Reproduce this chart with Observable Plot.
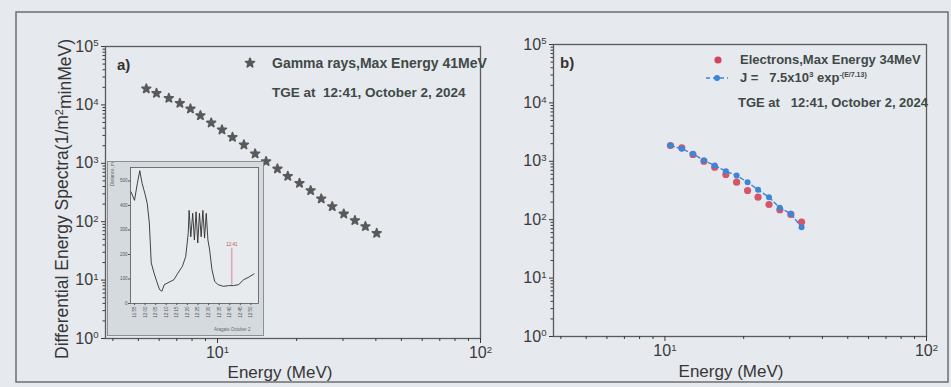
<!DOCTYPE html>
<html><head><meta charset="utf-8">
<script src="https://cdn.jsdelivr.net/npm/d3@7"></script>
<script src="https://cdn.jsdelivr.net/npm/@observablehq/plot@0.6"></script>
<style>
html,body{margin:0;padding:0;background:#e6e9ed;}
#wrap{position:relative;width:951px;height:387px;background:#e6e9ed;overflow:hidden;font-family:Arial,"Liberation Sans",sans-serif;color:#3a3a3a;}
.t{position:absolute;white-space:nowrap;line-height:1;}
.leg{font-family:"Liberation Sans Narrow","Arial Narrow",Arial,sans-serif;font-weight:bold;font-size:14px;color:#3f4947;}
</style></head><body><div id="wrap"></div>
<script>
// ---- data ----
const gammaEnergy = [5.36,5.86,6.53,7.19,7.89,8.61,9.46,10.4,11.4,12.6,13.9,15.3,16.9,18.5,20.5,22.6,24.8,27.3,30.2,33.3,36.5,40.3];
const gammaFlux   = [18900,15850,13030,10700,8570,6580,4930,3750,2800,2075,1455,1074,805,601,456,342,247,182,136,105,83,63.5];

const electronEnergy = [10.5,11.6,12.8,14.1,15.5,17.1,18.8,20.7,22.7,25.0,27.5,30.3,33.3];
const electronFlux   = [1865,1703,1307,1005,793,594,439,316,243,182,148,123,91];
const fitFlux        = [1865,1637,1344,1032,847,677,571,439,325,243,160,126,74.5];

const decadeTicks = [1,10,100,1000,10000,100000];
const xMajorTicks = [10,100];
const xMinorTicks = [4,5,6,7,8,9,20,30,40,50,60,70,80,90];
const yMinorTicks = [0,1,2,3,4].flatMap(k => [2,3,4,5,6,7,8,9].map(m => m*Math.pow(10,k)));

// inset: lightning distance vs time (minutes after 12:00)
const insetTime = [-6.6,-5.0,-3.7,-2.5,-1.4,-0.1,1.0,2.0,2.9,4.2,5.5,6.8,7.9,9.1,13.6,15.5,17.6,19.2,20.4,20.8,21.6,22.5,23.3,24.1,24.9,25.7,26.5,27.3,28.1,28.9,29.7,30.5,31.6,32.9,34.5,37.0,39.4,41.8,44.2,46.6,49.1,51.5];
const insetDistance = [455,421,489,542,490,449,409,328,166,125,90,57,50,77,97,124,151,192,287,380,272,368,259,374,247,368,272,380,267,368,259,219,138,90,77,70,73,73,77,97,108,121];
const insetYTicks = [0,100,200,300,400,500];
const insetXTicks = [-5,0,5,10,15,20,25,30,35,40,45,50];
const insetXLabels = ["11:55","12:00","12:05","12:10","12:15","12:20","12:25","12:30","12:35","12:40","12:45","12:50"];
const tgeTime = 41, tgeRange = [73,225];

const gamma = gammaEnergy.map((e,i)=>({e, f:gammaFlux[i]}));
const electrons = electronEnergy.map((e,i)=>({e, f:electronFlux[i]}));
const fit = electronEnergy.map((e,i)=>({e, f:fitFlux[i]}));
const inset = insetTime.map((t,i)=>({t, v:insetDistance[i]}));

const wrap = document.getElementById("wrap");
const pow = v => "10^" + Math.round(Math.log10(v));

function supFix(svg){
  svg.querySelectorAll("text").forEach(t=>{
    const m = /^10\^(\d+)$/.exec(t.textContent);
    if(m){
      t.textContent = "10";
      const ts = document.createElementNS("http://www.w3.org/2000/svg","tspan");
      ts.setAttribute("dy","-0.55em");
      ts.setAttribute("font-size","0.6em");
      ts.textContent = m[1];
      t.appendChild(ts);
    }
  });
}
function place(svg, x, y){
  svg.style.position = "absolute";
  svg.style.left = x + "px";
  svg.style.top = y + "px";
  svg.style.overflow = "visible";
  wrap.appendChild(svg);
}

function axesMarks(){
  return [
    Plot.frame({stroke:"#5c5c5c", strokeWidth:1.3}),
    Plot.axisX(xMinorTicks, {tickSize:3, tickFormat:()=>"", label:null}),
    Plot.axisX(xMajorTicks, {tickSize:5, tickPadding:3, fontSize:16, tickFormat:pow, label:null}),
    Plot.axisY(yMinorTicks, {tickSize:2.5, tickFormat:()=>"", label:null}),
    Plot.axisY(decadeTicks, {tickSize:4, tickPadding:3, fontSize:16, tickFormat:pow, label:null})
  ];
}

const left = Plot.plot({
  width:490, height:387,
  marginLeft:105, marginRight:10, marginTop:46, marginBottom:49,
  style:{background:"transparent", color:"#3a3a3a", fontFamily:"Arial, 'Liberation Sans', sans-serif"},
  x:{type:"log", domain:[3.75,100]},
  y:{type:"log", domain:[1,1e5]},
  marks:[
    ...axesMarks(),
    Plot.dot(gamma, {x:"e", y:"f", symbol:"star", r:2.7, fill:"#5a5a5a", stroke:"#5a5a5a", strokeWidth:1.8, strokeLinejoin:"round"})
  ]
});
supFix(left);
place(left, 0, 0);

const right = Plot.plot({
  width:461, height:387,
  marginLeft:63, marginRight:25, marginTop:44, marginBottom:51,
  style:{background:"transparent", color:"#3a3a3a", fontFamily:"Arial, 'Liberation Sans', sans-serif"},
  x:{type:"log", domain:[3.75,100]},
  y:{type:"log", domain:[1,1e5]},
  marks:[
    ...axesMarks(),
    Plot.dot(electrons, {x:"e", y:"f", r:3.6, fill:"#d4455c", fillOpacity:0.9}),
    Plot.line(fit, {x:"e", y:"f", stroke:"#3b86d6", strokeWidth:1.4, strokeDasharray:"4,3"}),
    Plot.dot(fit, {x:"e", y:"f", r:3, fill:"#3b86d6"})
  ]
});
supFix(right);
place(right, 490, 0);

// inset
const ins = Plot.plot({
  width:155, height:173,
  marginLeft:22, marginRight:5, marginTop:5, marginBottom:32,
  style:{background:"#d5dadf", color:"#555", fontFamily:"Arial, sans-serif", outline:"1px solid #8b9095"},
  x:{domain:[-6.9,53.6]},
  y:{domain:[0,555]},
  marks:[
    Plot.frame({fill:"#e8ebee", stroke:"#555", strokeWidth:0.8}),
    Plot.axisY(insetYTicks, {tickSize:2, tickPadding:1, fontSize:4.5, label:null}),
    Plot.axisX(insetXTicks, {tickSize:2, tickPadding:1, fontSize:4.5, tickRotate:-90, tickFormat:(d,i)=>insetXLabels[i], label:null}),
    Plot.ruleX([tgeTime], {y1:tgeRange[0], y2:tgeRange[1], stroke:"#d77a8c", strokeWidth:0.9}),
    Plot.text(["12:41"], {x:tgeTime, y:tgeRange[1]+15, fontSize:4.5, fill:"#b55"}),
    Plot.line(inset, {x:"t", y:"v", stroke:"#2e2e2e", strokeWidth:0.9})
  ]
});
place(ins, 108, 162);

// overlay: frame, labels, legends
const ov = `
<svg width="951" height="387" style="position:absolute;left:0;top:0;pointer-events:none" xmlns="http://www.w3.org/2000/svg">
  <rect x="16" y="12" width="932" height="370" fill="none" stroke="#6e6e6e" stroke-width="1.5"/>
  <g transform="translate(62,199) rotate(-90)">
    <text text-anchor="middle" dy="0.35em" font-size="17.5" font-family="Arial, sans-serif" fill="#363636">Differential Energy Spectra(1/m<tspan dy="-0.5em" font-size="11">2</tspan><tspan dy="0.5em">minMeV)</tspan></text>
  </g>
  <text x="280" y="372" text-anchor="middle" dy="0.35em" font-size="17" font-family="Arial, sans-serif" fill="#363636">Energy (MeV)</text>
  <text x="731" y="371" text-anchor="middle" dy="0.35em" font-size="17" font-family="Arial, sans-serif" fill="#363636">Energy (MeV)</text>
  <text x="117" y="65" dy="0.35em" font-size="15" font-weight="bold" font-family="Arial, sans-serif" fill="#333">a)</text>
  <text x="560" y="63" dy="0.35em" font-size="15" font-weight="bold" font-family="Arial, sans-serif" fill="#333">b)</text>
  <path d="${d3.symbol(d3.symbolStar, 24)()}" transform="translate(250,63)" fill="#585858" stroke="#585858" stroke-width="1.8" stroke-linejoin="round"/>
  <circle cx="718" cy="60" r="3.6" fill="#d4455c"/>
  <line x1="706" y1="78" x2="728" y2="78" stroke="#3b86d6" stroke-width="1.4" stroke-dasharray="4,3"/>
  <circle cx="717" cy="78" r="3" fill="#3b86d6"/>
</svg>`;
wrap.insertAdjacentHTML("beforeend", ov);

function addText(html, x, y, cls, extra){
  const d = document.createElement("div");
  d.className = "t " + (cls||"");
  d.innerHTML = html;
  d.style.left = x + "px"; d.style.top = y + "px";
  if (extra) Object.assign(d.style, extra);
  wrap.appendChild(d);
  return d;
}
addText("Gamma rays,Max Energy 41MeV", 272, 56, "leg");
addText("TGE at&nbsp; 12:41, October 2, 2024", 272, 86, "leg", {fontSize:"13.5px"});
addText("Electrons,Max Energy 34MeV", 740, 53, "leg", {fontSize:"13px"});
addText("J =&nbsp;&nbsp; 7.5x10<sup style='font-size:8px'>3</sup> exp<sup style='font-size:7px'>-(E/7.13)</sup>", 740, 71, "leg", {fontSize:"13px"});
addText("TGE at&nbsp;&nbsp; 12:41, October 2, 2024", 738, 96, "leg", {fontSize:"13px"});
// inset axis labels
addText("Distance, m", 111, 186, "", {fontSize:"4.5px", color:"#666", transform:"rotate(-90deg)", transformOrigin:"left top"});
addText("Aragats October 2", 214, 328, "", {fontSize:"4.5px", color:"#666"});
</script>
</body></html>
